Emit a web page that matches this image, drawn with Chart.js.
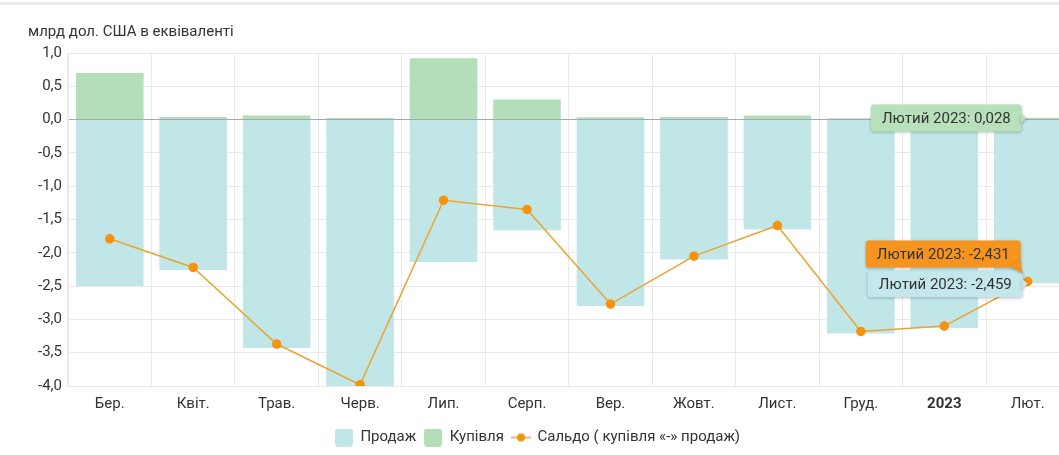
<!DOCTYPE html>
<html>
<head>
<meta charset="utf-8">
<script src="https://cdn.jsdelivr.net/npm/chart.js@4"></script>
<style>
    html, body { margin: 0; padding: 0; background: #fff; overflow: hidden; }
    #wrap { position: relative; width: 1075px; height: 455px; }
    #topline { position: absolute; left: 0; top: 2px; width: 1059px; height: 3px; background: #ececec; }
    #unit {
        position: absolute; left: 28px; top: 22px;
        font: 15px Roboto, "Noto Sans", sans-serif; color: #333;
    }
</style>
</head>
<body>
<div id="wrap">
    <div id="topline"></div>
    <div id="unit">млрд дол. США в еквіваленті</div>
    <canvas id="fxChart" width="1075" height="455"></canvas>
</div>
<script>
// Months (Mar 2022 - Feb 2023)
const months = ['Бер.', 'Квіт.', 'Трав.', 'Черв.', 'Лип.', 'Серп.', 'Вер.', 'Жовт.', 'Лист.', 'Груд.', '2023', 'Лют.'];
const sales = [-2.50, -2.26, -3.43, -4.00, -2.14, -1.66, -2.80, -2.10, -1.65, -3.21, -3.13, -2.459];
const purchases = [0.70, 0.04, 0.06, 0.025, 0.92, 0.30, 0.035, 0.04, 0.06, 0.02, 0.01, 0.028];
const balance = [-1.79, -2.22, -3.37, -3.98, -1.21, -1.35, -2.77, -2.05, -1.59, -3.18, -3.10, -2.431];
const yTicks = [1.0, 0.5, 0.0, -0.5, -1.0, -1.5, -2.0, -2.5, -3.0, -3.5, -4.0];
const tooltipLabel = 'Лютий 2023';

const FONT = 'Roboto, "Noto Sans", sans-serif';
const fmt = (v, d) => v.toFixed(d).replace('.', ',');

// legend markers
function boxMarker(color) {
    const c = document.createElement('canvas');
    c.width = 18; c.height = 18;
    const g = c.getContext('2d');
    g.fillStyle = color;
    g.beginPath();
    g.roundRect(0, 0, 18, 18, 3);
    g.fill();
    return c;
}
function lineMarker() {
    const c = document.createElement('canvas');
    c.width = 20; c.height = 10;
    const g = c.getContext('2d');
    g.strokeStyle = '#e8a534';
    g.lineWidth = 1.5;
    g.beginPath(); g.moveTo(0, 5); g.lineTo(20, 5); g.stroke();
    g.fillStyle = '#f5930f';
    g.beginPath(); g.arc(10, 5, 4, 0, Math.PI * 2); g.fill();
    return c;
}

// draws the three "hover" labels on the last month
const pinnedTooltips = {
    id: 'pinnedTooltips',
    afterDatasetsDraw(chart) {
        const ctx = chart.ctx;
        const last = months.length - 1;
        const salesEl = chart.getDatasetMeta(0).data[last];
        const buyEl = chart.getDatasetMeta(1).data[last];
        const balEl = chart.getDatasetMeta(2).data[last];

        const drawBox = (text, right, top, fill, caret) => {
            ctx.save();
            ctx.font = '15px ' + FONT;
            const w = ctx.measureText(text).width + 22;
            const h = 27;
            const left = right - w;
            ctx.shadowColor = 'rgba(0,0,0,0.25)';
            ctx.shadowBlur = 3;
            ctx.shadowOffsetY = 1;
            ctx.fillStyle = fill;
            ctx.beginPath();
            ctx.roundRect(left, top, w, h, 3);
            ctx.fill();
            ctx.beginPath();
            if (caret === 'right') {
                ctx.moveTo(right - 1, top + h / 2 - 5);
                ctx.lineTo(right + 5, top + h / 2);
                ctx.lineTo(right - 1, top + h / 2 + 5);
            } else {
                ctx.moveTo(right - 10, top + h - 1);
                ctx.lineTo(right + 2, top + h + 6);
                ctx.lineTo(right - 1, top + h - 8);
            }
            ctx.fill();
            ctx.shadowColor = 'transparent';
            ctx.fillStyle = '#333';
            ctx.textBaseline = 'middle';
            ctx.fillText(text, left + 11, top + h / 2 + 1);
            ctx.restore();
        };

        drawBox(tooltipLabel + ': ' + fmt(purchases[last], 3), buyEl.x - 6, (buyEl.y + buyEl.base) / 2 - 14, '#b7e0bb', 'right');
        drawBox(tooltipLabel + ': ' + fmt(sales[last], 3), salesEl.x - 5, salesEl.y - 13, '#c3e7ea', 'right');
        drawBox(tooltipLabel + ': ' + fmt(balance[last], 3), balEl.x - 7, balEl.y - 41, '#f7941d', 'corner');
    }
};

new Chart(document.getElementById('fxChart'), {
    type: 'bar',
    data: {
        labels: months,
        datasets: [
            {
                label: 'Продаж',
                data: sales,
                backgroundColor: '#c1e6e8',
                stack: 'fx',
                order: 1
            },
            {
                label: 'Купівля',
                data: purchases,
                backgroundColor: '#b4deb8',
                stack: 'fx',
                order: 1
            },
            {
                type: 'line',
                label: 'Сальдо ( купівля «-» продаж)',
                data: balance,
                borderColor: '#e8a534',
                borderWidth: 1.5,
                pointBackgroundColor: '#f5930f',
                pointBorderColor: '#f5930f',
                pointRadius: 4,
                tension: 0,
                stack: 'saldo',
                order: 0
            }
        ]
    },
    options: {
        responsive: false,
        animation: false,
        categoryPercentage: 0.81,
        barPercentage: 1.0,
        layout: { padding: { top: 53, right: 0, bottom: 0, left: 0 } },
        plugins: {
            tooltip: { enabled: false },
            legend: {
                position: 'bottom',
                labels: {
                    usePointStyle: true,
                    pointStyleWidth: 18,
                    boxHeight: 15,
                    padding: 8,
                    color: '#333',
                    font: { family: FONT, size: 15 },
                    generateLabels(chart) {
                        const markers = [boxMarker('#c1e6e8'), boxMarker('#b4deb8'), lineMarker()];
                        return chart.data.datasets.map((ds, i) => ({
                            text: ds.label,
                            pointStyle: markers[i],
                            fillStyle: 'transparent',
                            strokeStyle: 'transparent',
                            lineWidth: 0,
                            fontColor: '#333',
                            datasetIndex: i,
                            hidden: false
                        }));
                    }
                }
            }
        },
        scales: {
            x: {
                stacked: true,
                grid: { color: '#e9e9e9', drawTicks: false, offset: true },
                border: { color: '#e9e9e9' },
                ticks: {
                    padding: 9,
                    color: '#333',
                    font: ctx => ({ family: FONT, size: 15, weight: ctx.index === 10 ? 'bold' : 'normal' })
                }
            },
            y: {
                stacked: true,
                min: Math.min(...yTicks),
                max: Math.max(...yTicks),
                afterFit(scale) { scale.width = 68; },
                afterBuildTicks(scale) { scale.ticks = yTicks.map(v => ({ value: v })); },
                grid: {
                    drawTicks: false,
                    color: ctx => ctx.tick && ctx.tick.value === 0 ? '#a8a8a8' : '#e9e9e9'
                },
                border: { color: '#e9e9e9' },
                ticks: {
                    padding: 6,
                    color: '#333',
                    font: { family: FONT, size: 15 },
                    callback: v => fmt(v, 1)
                }
            }
        }
    },
    plugins: [pinnedTooltips]
});
</script>
</body>
</html>
